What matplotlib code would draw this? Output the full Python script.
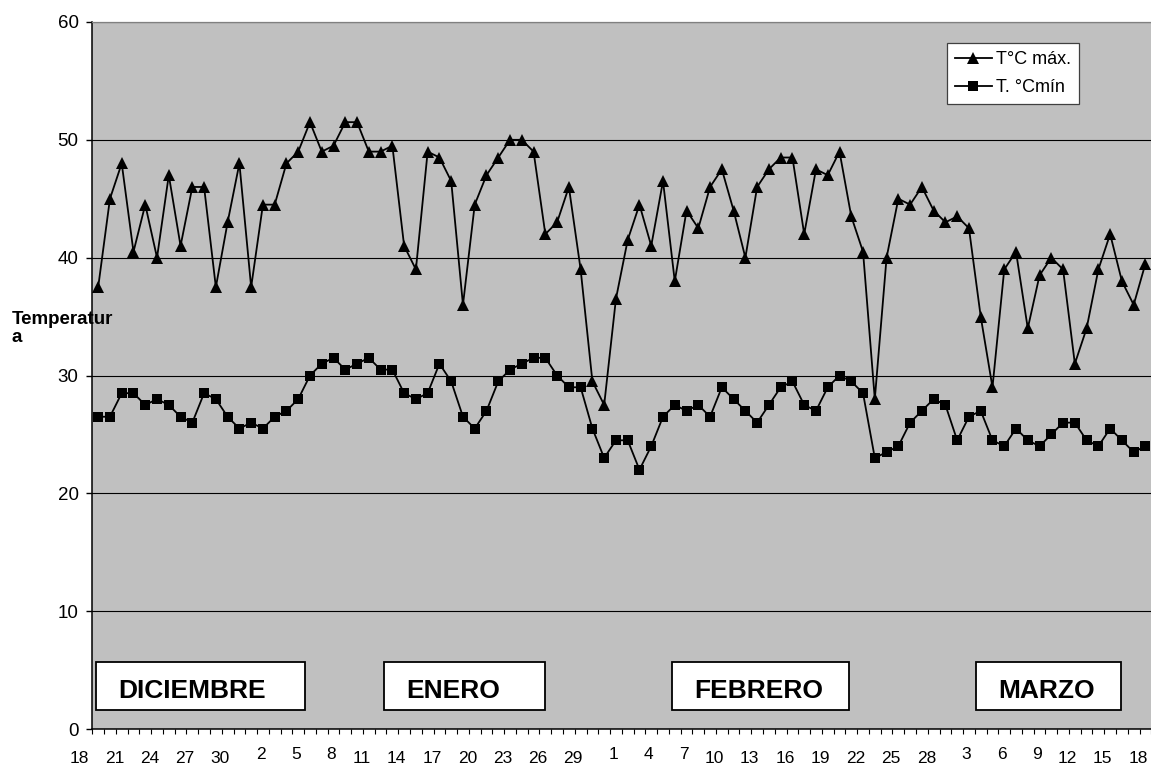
import matplotlib
matplotlib.use('Agg')
import matplotlib.pyplot as plt
from matplotlib.patches import Rectangle

plt.rcParams['font.family'] = ['Liberation Sans', 'DejaVu Sans']

# dias del periodo: 18 dic .. 18 mar
dias = list(range(18, 32)) + list(range(1, 32)) + list(range(1, 29)) + list(range(1, 19))

t_max = [37.5, 45, 48, 40.5, 44.5, 40, 47, 41, 46, 46,
         37.5, 43, 48, 37.5, 44.5, 44.5, 48, 49, 51.5, 49,
         49.5, 51.5, 51.5, 49, 49, 49.5, 41, 39, 49, 48.5,
         46.5, 36, 44.5, 47, 48.5, 50, 50, 49, 42, 43,
         46, 39, 29.5, 27.5, 36.5, 41.5, 44.5, 41, 46.5, 38,
         44, 42.5, 46, 47.5, 44, 40, 46, 47.5, 48.5, 48.5,
         42, 47.5, 47, 49, 43.5, 40.5, 28, 40, 45, 44.5,
         46, 44, 43, 43.5, 42.5, 35, 29, 39, 40.5, 34,
         38.5, 40, 39, 31, 34, 39, 42, 38, 36, 39.5]

t_min = [26.5, 26.5, 28.5, 28.5, 27.5, 28, 27.5, 26.5, 26, 28.5,
         28, 26.5, 25.5, 26, 25.5, 26.5, 27, 28, 30, 31,
         31.5, 30.5, 31, 31.5, 30.5, 30.5, 28.5, 28, 28.5, 31,
         29.5, 26.5, 25.5, 27, 29.5, 30.5, 31, 31.5, 31.5, 30,
         29, 29, 25.5, 23, 24.5, 24.5, 22, 24, 26.5, 27.5,
         27, 27.5, 26.5, 29, 28, 27, 26, 27.5, 29, 29.5,
         27.5, 27, 29, 30, 29.5, 28.5, 23, 23.5, 24, 26,
         27, 28, 27.5, 24.5, 26.5, 27, 24.5, 24, 25.5, 24.5,
         24, 25, 26, 26, 24.5, 24, 25.5, 24.5, 23.5, 24]

meses = ['DICIEMBRE', 'ENERO', 'FEBRERO', 'MARZO']
# extension de cada recuadro de mes, en dias
meses_x = [(-0.19, 17.57), (24.29, 37.97), (48.76, 63.80), (74.60, 86.92)]

W, H = 1151, 769
fig = plt.figure(figsize=(W / 100, H / 100), dpi=100)
ax = fig.add_axes([92.3 / W, 1 - 729 / H, 1070.8 / W, 707 / H])
ax.set_facecolor('#c0c0c0')

x = range(len(t_max))
ax.plot(x, t_max, color='black', lw=1.3, marker='^', ms=9, mew=0,
        label='T°C máx.', clip_on=False, zorder=3)
ax.plot(x, t_min, color='black', lw=1.3, marker='s', ms=7.3, mew=0,
        label='T. °Cmín', clip_on=False, zorder=3)

ax.set_xlim(-0.5, len(dias) - 0.5)
ax.set_ylim(0, 60)
ax.set_yticks(range(0, 61, 10))
ax.yaxis.grid(True, color='black', lw=0.8)
ax.set_axisbelow(True)

ax.set_xticks([i - 0.5 for i in range(len(dias) + 1)])
ax.set_xticklabels([])
ax.tick_params(axis='x', direction='out', length=3.6, width=0.8, color='black')
ax.tick_params(axis='y', direction='out', length=4.3, width=1, pad=5.5,
               labelsize=13.5, color='black')

for s in ['left', 'bottom']:
    ax.spines[s].set_color('black')
    ax.spines[s].set_linewidth(1.1)
ax.spines['top'].set_color('#808080')
ax.spines['top'].set_linewidth(0.9)
ax.spines['right'].set_visible(False)

# etiquetas de dias cada 3
xt = ax.get_xaxis_transform()
for i in range(0, len(dias), 3):
    d = dias[i]
    yy = -0.0359 if d < 10 else -0.0417
    ax.text(i - 0.8, yy, str(d), transform=xt, ha='right', va='center',
            fontsize=12.5)

fig.text(12 / W, 1 - 311 / H, 'Temperatur\na', fontweight='bold', fontsize=13.5,
         ha='left', va='top', linespacing=1.1)

# recuadros de los meses
for nombre, (x0, x1) in zip(meses, meses_x):
    ax.add_patch(Rectangle((x0, 1.61), x1 - x0, 4.08, facecolor='white',
                           edgecolor='black', lw=1.3, zorder=4))
    ax.text(x0 + 1.87, 2.63, nombre, fontsize=19, fontweight='bold',
            ha='left', va='baseline', zorder=5)

leg = ax.legend(loc='upper left', bbox_to_anchor=(946.7 / W, 1 - 43 / H),
                bbox_transform=fig.transFigure, fontsize=13, frameon=True,
                fancybox=False, borderpad=0.45, borderaxespad=0,
                handlelength=2.05, handletextpad=0.22, labelspacing=0.6)
leg.get_frame().set_edgecolor('#404040')
leg.get_frame().set_linewidth(0.9)
leg.get_frame().set_facecolor('white')
leg.get_frame().set_alpha(1)

fig.savefig('out.png', dpi=100)
